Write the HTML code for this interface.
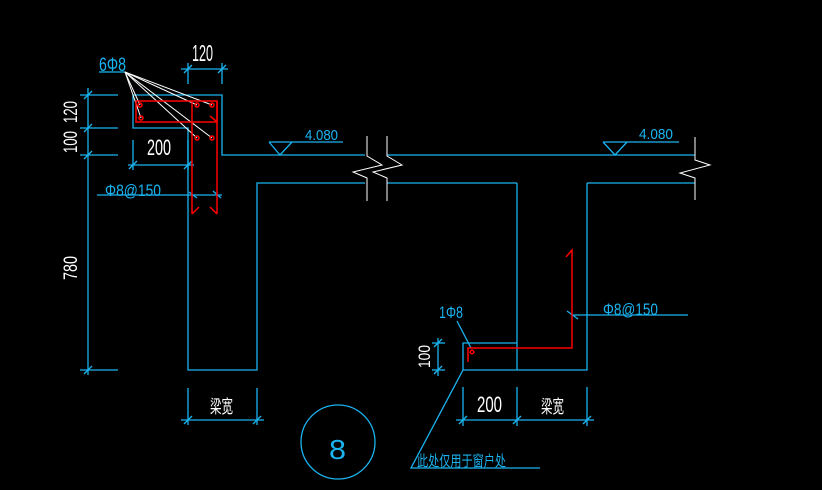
<!DOCTYPE html>
<html><head><meta charset="utf-8"><style>
html,body{margin:0;padding:0;background:#000;width:822px;height:490px;overflow:hidden}
svg{display:block}
text{font-family:"Liberation Sans","Noto Sans CJK SC",sans-serif}
</style></head><body>
<svg width="822" height="490" viewBox="0 0 822 490" xmlns="http://www.w3.org/2000/svg">
<g fill="none" stroke="#1ab4f0" stroke-width="1.3">
<polyline points="133,95 222,95 222,155 365,155"/>
<polyline points="133,95 133,128 188,128 188,370 257,370 257,183 365,183"/>
<line x1="387" y1="155" x2="695" y2="155"/>
<line x1="387" y1="183" x2="517" y2="183"/>
<line x1="587" y1="183" x2="695" y2="183"/>
<polyline points="517,183 517,370"/>
<polyline points="587,183 587,370 463,370 463,343 517,343"/>
<line x1="88" y1="88" x2="88" y2="375"/>
<line x1="80" y1="95" x2="118" y2="95"/>
<line x1="80" y1="128" x2="118" y2="128"/>
<line x1="80" y1="155" x2="118" y2="155"/>
<line x1="80" y1="370" x2="118" y2="370"/>
<line x1="84" y1="99" x2="92" y2="91"/><line x1="84" y1="132" x2="92" y2="124"/><line x1="84" y1="159" x2="92" y2="151"/><line x1="84" y1="374" x2="92" y2="366"/>
<line x1="181" y1="69" x2="228" y2="69"/>
<line x1="188" y1="63" x2="188" y2="84"/><line x1="222" y1="63" x2="222" y2="84"/>
<line x1="184" y1="73" x2="192" y2="65"/><line x1="218" y1="73" x2="226" y2="65"/>
<line x1="128" y1="165" x2="194" y2="165"/>
<line x1="133" y1="140" x2="133" y2="170"/><line x1="188" y1="140" x2="188" y2="170"/>
<line x1="129" y1="169" x2="137" y2="161"/><line x1="184" y1="169" x2="192" y2="161"/>
<line x1="99" y1="72" x2="125" y2="72"/>
<line x1="97" y1="195" x2="222" y2="195"/>
<line x1="189" y1="192" x2="197" y2="198"/><line x1="213" y1="191" x2="221" y2="198"/>
<line x1="269" y1="142" x2="343" y2="142"/><polyline points="269,142 280,155 292,142"/>
<line x1="603" y1="142" x2="679" y2="142"/><polyline points="603,142 615,155 627,142"/>
<line x1="188" y1="388" x2="188" y2="425"/><line x1="257" y1="388" x2="257" y2="425"/>
<line x1="181" y1="420" x2="264" y2="420"/>
<line x1="184" y1="424" x2="192" y2="416"/><line x1="253" y1="424" x2="261" y2="416"/>
<line x1="463" y1="387" x2="463" y2="426"/><line x1="517" y1="387" x2="517" y2="426"/><line x1="587" y1="387" x2="587" y2="426"/>
<line x1="456" y1="420" x2="594" y2="420"/>
<line x1="459" y1="424" x2="467" y2="416"/><line x1="513" y1="424" x2="521" y2="416"/><line x1="583" y1="424" x2="591" y2="416"/>
<line x1="438" y1="338" x2="438" y2="376"/>
<line x1="432" y1="343" x2="445" y2="343"/><line x1="432" y1="370" x2="445" y2="370"/>
<line x1="434" y1="347" x2="442" y2="339"/><line x1="434" y1="374" x2="442" y2="366"/>
<line x1="457" y1="321" x2="471" y2="348"/>
<line x1="572" y1="315" x2="688" y2="315"/>
<line x1="567" y1="311" x2="578" y2="319"/>
<polyline points="463,370 411,468 540,468"/>
<circle cx="338" cy="442" r="37"/>
</g>
<g fill="none" stroke="#fff" stroke-width="1">
<line x1="125" y1="72" x2="140" y2="105"/>
<line x1="125" y1="72" x2="141" y2="118"/>
<line x1="125" y1="72" x2="197" y2="105"/>
<line x1="125" y1="72" x2="212" y2="105"/>
<line x1="125" y1="72" x2="197" y2="138"/>
<line x1="125" y1="72" x2="212" y2="138"/>
<polyline points="367,136 367,156 382,165 353,172 367,178 367,201"/>
<polyline points="387,136 387,156 402,165 373,172 387,178 387,201"/>
<polyline points="695,137 695,160 710,165 680,173 695,178 695,200"/>
</g>
<g fill="none" stroke="#f00" stroke-width="1.5">
<rect x="136" y="101" width="81" height="21"/>
<polyline points="192,101 192,214"/>
<polyline points="217,101 217,214"/>
<line x1="192" y1="214" x2="199" y2="207"/><line x1="217" y1="214" x2="210" y2="207"/>
<line x1="210" y1="116" x2="216" y2="121"/>
<circle cx="140" cy="105" r="2"/><circle cx="141" cy="118" r="2"/>
<circle cx="197" cy="105" r="2"/><circle cx="212" cy="105" r="2"/>
<circle cx="197" cy="138" r="2"/><circle cx="212" cy="138" r="2"/>
<polyline points="566,257 572,250 572,348 468,348 468,362"/>
<circle cx="472" cy="352" r="1.8"/>
</g>
<g lengthAdjust="spacingAndGlyphs">
<text x="99" y="71" fill="#1ab4f0" font-size="19" textLength="27" lengthAdjust="spacingAndGlyphs">6Φ8</text>
<text x="192" y="61" fill="#fff" font-size="23" textLength="21" lengthAdjust="spacingAndGlyphs">120</text>
<text x="147" y="155" fill="#fff" font-size="22" textLength="24" lengthAdjust="spacingAndGlyphs">200</text>
<text x="105" y="196" fill="#1ab4f0" font-size="17" textLength="56" lengthAdjust="spacingAndGlyphs">Φ8@150</text>
<text x="305" y="140" fill="#1ab4f0" font-size="15" textLength="33" lengthAdjust="spacingAndGlyphs">4.080</text>
<text x="639" y="139" fill="#1ab4f0" font-size="15" textLength="34" lengthAdjust="spacingAndGlyphs">4.080</text>
<text x="439" y="318" fill="#1ab4f0" font-size="17" textLength="24" lengthAdjust="spacingAndGlyphs">1Φ8</text>
<text x="603" y="315" fill="#1ab4f0" font-size="17" textLength="55" lengthAdjust="spacingAndGlyphs">Φ8@150</text>
<text x="477" y="412" fill="#fff" font-size="22" textLength="25" lengthAdjust="spacingAndGlyphs">200</text>
<text x="541" y="413" fill="#fff" font-size="18" textLength="23" lengthAdjust="spacingAndGlyphs">梁宽</text>
<text x="210" y="413" fill="#fff" font-size="18" textLength="23" lengthAdjust="spacingAndGlyphs">梁宽</text>
<text x="417" y="466" fill="#1ab4f0" font-size="15" textLength="89" lengthAdjust="spacingAndGlyphs">此处仅用于窗户处</text>
<text x="329" y="459" fill="#1ab4f0" font-size="28" textLength="17" lengthAdjust="spacingAndGlyphs">8</text>
<text transform="translate(77,123) rotate(-90)" fill="#fff" font-size="19" textLength="22" lengthAdjust="spacingAndGlyphs">120</text>
<text transform="translate(77,153) rotate(-90)" fill="#fff" font-size="19" textLength="22" lengthAdjust="spacingAndGlyphs">100</text>
<text transform="translate(77,280) rotate(-90)" fill="#fff" font-size="19" textLength="24" lengthAdjust="spacingAndGlyphs">780</text>
<text transform="translate(430,368) rotate(-90)" fill="#fff" font-size="17" textLength="23" lengthAdjust="spacingAndGlyphs">100</text>
</g>
</svg>
</body></html>
